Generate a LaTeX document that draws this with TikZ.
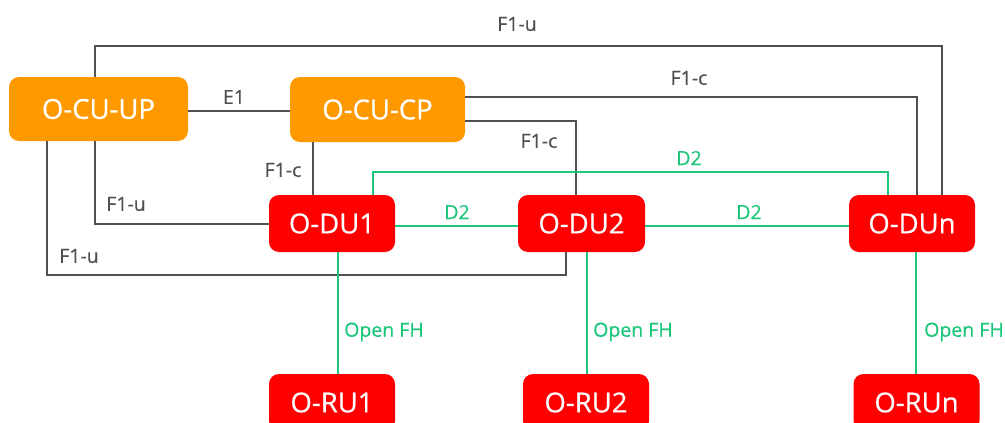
\documentclass[tikz,border=0pt]{standalone}
\usepackage{fontspec}
\setmainfont{Open Sans}
\newfontfamily\boxfont{Open Sans}[FakeBold=0.6]
\newfontfamily\labfont{Open Sans}[FakeBold=0.3]
\definecolor{cuorange}{HTML}{FF9900}
\definecolor{dured}{HTML}{FF0000}
\definecolor{fhgreen}{HTML}{1DC77A}
\definecolor{linegray}{HTML}{505050}
\tikzset{
  cubox/.style={fill=cuorange, rounded corners=10pt, text=white, font=\boxfont\fontsize{27.5}{30}\selectfont, inner sep=0pt},
  dubox/.style={fill=dured, rounded corners=10pt, text=white, font=\boxfont\fontsize{27.5}{30}\selectfont, inner sep=0pt, minimum width=126pt, minimum height=57pt},
  gline/.style={draw=linegray, line width=2.5pt},
  grline/.style={draw=fhgreen, line width=2.5pt},
  glabel/.style={text=linegray, font=\labfont\fontsize{19.5}{22}\selectfont, inner sep=0pt},
  grlabel/.style={text=fhgreen, font=\labfont\fontsize{19.5}{22}\selectfont, inner sep=0pt},
}
\begin{document}
\begin{tikzpicture}[x=1pt,y=-1pt]
\useasboundingbox (0,0) rectangle (1005,423);
\clip (0,0) rectangle (1005,423);
% nodes
\node[cubox, minimum width=179pt, minimum height=64pt] (cuup) at (98.5,109) {O-CU-UP};
\node[cubox, minimum width=175pt, minimum height=65pt] (cucp) at (377.5,109.5) {O-CU-CP};
\node[dubox] (du1) at (332,223.5) {O-DU1};
\node[dubox, minimum width=127pt] (du2) at (581.5,223.5) {O-DU2};
\node[dubox] (dun) at (912,223.5) {O-DUn};
\node[dubox] (ru1) at (332,402.5) {O-RU1};
\node[dubox] (ru2) at (586,402.5) {O-RU2};
\node[dubox] (run) at (916.5,402.5) {O-RUn};
% gray connectors
\draw[gline] (95,0 |- cuup.north) -- (95,46) -| (942,0 |- dun.north);
\draw[gline] (cuup.east |- 0,111) -- (cucp.west |- 0,111);
\draw[gline] (cucp.east |- 0,97) -| (917,0 |- dun.north);
\draw[gline] (cucp.east |- 0,121) -| (576,0 |- du2.north);
\draw[gline] (313,0 |- cucp.south) -- (313,0 |- du1.north);
\draw[gline] (95,0 |- cuup.south) |- (du1.west |- 0,224);
\draw[gline] (47,0 |- cuup.south) -- (47,275) -| (566,0 |- du2.south);
% green connectors
\draw[grline] (373,0 |- du1.north) -- (373,172) -| (888,0 |- dun.north);
\draw[grline] (du1.east |- 0,226) -- (du2.west |- 0,226);
\draw[grline] (du2.east |- 0,226) -- (dun.west |- 0,226);
\draw[grline] (338,0 |- du1.south) -- (338,0 |- ru1.north);
\draw[grline] (587,0 |- du2.south) -- (587,0 |- ru2.north);
\draw[grline] (916,0 |- dun.south) -- (916,0 |- run.north);
% labels
\node[glabel] (l1) at (517,24) {F1-u};
\node[glabel] (l2) at (234,97) {E1};
\node[glabel] (l3) at (689,78) {F1-c};
\node[glabel] (l4) at (539,141) {F1-c};
\node[glabel] (l5) at (283,170) {F1-c};
\node[glabel] (l6) at (126,204) {F1-u};
\node[glabel] (l7) at (79,256) {F1-u};
\node[grlabel] (l8) at (689,158) {D2};
\node[grlabel] (l9) at (457,212) {D2};
\node[grlabel] (l10) at (749,212) {D2};
\node[grlabel] (l11) at (384,332) {Open FH};
\node[grlabel] (l12) at (633,332) {Open FH};
\node[grlabel] (l13) at (964,332) {Open FH};
\end{tikzpicture}
\end{document}
